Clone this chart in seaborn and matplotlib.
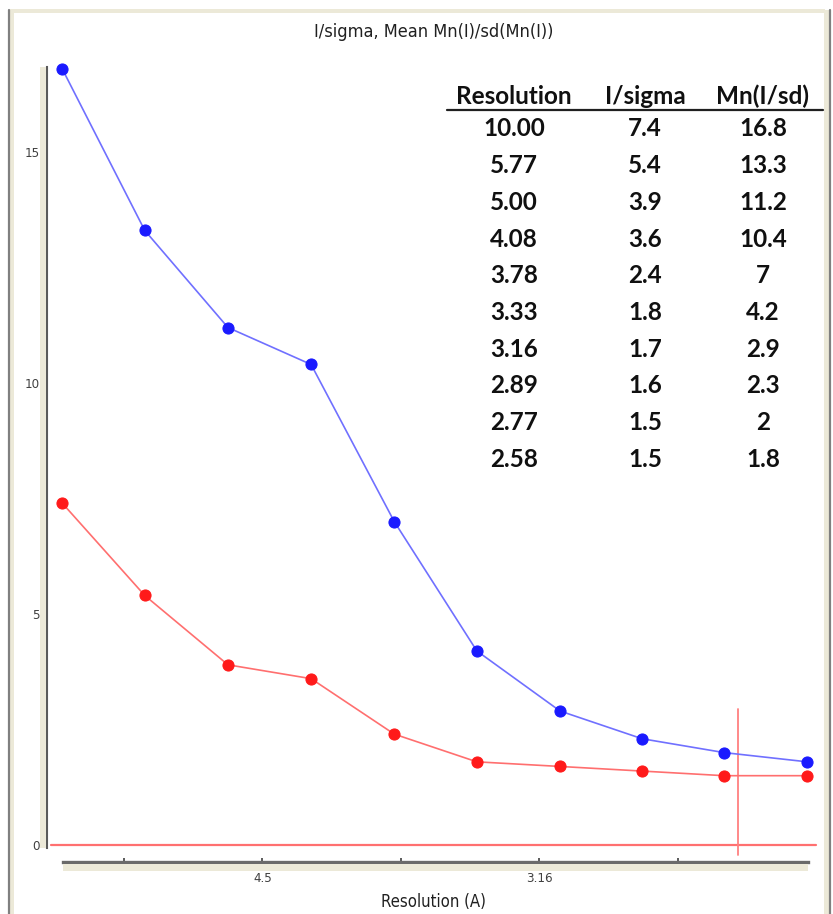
import matplotlib
matplotlib.use('Agg')
import matplotlib.pyplot as plt
from matplotlib.patches import Rectangle
from matplotlib.lines import Line2D
import seaborn as sns

# bin centres in 1/d^2 and the two curves
inv_d2 = [0.0139, 0.0288, 0.0438, 0.0588, 0.0738, 0.0887, 0.1037, 0.1185, 0.1333, 0.1483]
i_sigma = [7.4, 5.4, 3.9, 3.6, 2.4, 1.8, 1.7, 1.6, 1.5, 1.5]
mn_i_sd = [16.8, 13.3, 11.2, 10.4, 7.0, 4.2, 2.9, 2.3, 2.0, 1.8]

# table in the upper right
tbl_res = ['10.00', '5.77', '5.00', '4.08', '3.78', '3.33', '3.16', '2.89', '2.77', '2.58']
tbl_isig = ['7.4', '5.4', '3.9', '3.6', '2.4', '1.8', '1.7', '1.6', '1.5', '1.5']
tbl_mn = ['16.8', '13.3', '11.2', '10.4', '7', '4.2', '2.9', '2.3', '2', '1.8']
tbl_head = ['Resolution', 'I/sigma', 'Mn(I/sd)']

x_ticks = [0.025, 0.05, 0.075, 0.1, 0.125]
x_ticklabels = ['', '4.5', '', '3.16', '']
cursor_x = 0.1358

sns.set_style('white')
plt.rcParams['font.family'] = ['DejaVu Sans']
plt.rcParams['font.stretch'] = 'condensed'

W, H = 833, 914
fig = plt.figure(figsize=(W / 100, H / 100), dpi=100)
fig.patch.set_facecolor('white')

def fx(px):
    return px / W

def fy(py):
    return 1 - py / H

ax = fig.add_axes([fx(47), fy(862), fx(820) - fx(47), fy(60) - fy(862)])
ax.set_facecolor('white')
xlo, xhi = 0.01116, 0.1506
ax.set_xlim(xlo, xhi)
ax.set_ylim(-0.368, 16.99)

# window frame
fig.add_artist(Rectangle((fx(10), fy(13)), fx(825) - fx(10), fy(9) - fy(13), transform=fig.transFigure,
                         color='#ece9d8', lw=0))
fig.add_artist(Rectangle((fx(10), 0), fx(4), fy(10), transform=fig.transFigure, color='#ece9d8', lw=0))
fig.add_artist(Line2D([fx(9), fx(9)], [0, fy(10)], transform=fig.transFigure, color='#808080', lw=1.6))
fig.add_artist(Rectangle((fx(824), 0), fx(5), fy(10), transform=fig.transFigure, color='#ece9d8', lw=0))
fig.add_artist(Line2D([fx(830), fx(830)], [0, fy(10)], transform=fig.transFigure, color='#808080', lw=1.6))

# axis bars (light band + dark edge)
fig.add_artist(Rectangle((fx(40), fy(848)), fx(6), fy(67) - fy(848), transform=fig.transFigure,
                         color='#ece9d8', lw=0))
fig.add_artist(Rectangle((fx(63), fy(871)), fx(808) - fx(63), fy(864) - fy(871), transform=fig.transFigure,
                         color='#ece9d8', lw=0))

sns.despine(ax=ax, top=True, right=True)
ax.spines['left'].set_bounds(-0.07, 16.84)
ax.spines['left'].set_color('#5a5a5a')
ax.spines['left'].set_linewidth(1.5)
ax.spines['bottom'].set_bounds(0.01404, 0.14844)
ax.spines['bottom'].set_color('#6a6a6a')
ax.spines['bottom'].set_linewidth(2.4)

# zero line and cursor
ax.axhline(0, xmin=(0.0119 - xlo) / (xhi - xlo), xmax=(0.1498 - xlo) / (xhi - xlo),
           color='#ff7070', lw=1.6, zorder=1)
ax.plot([cursor_x, cursor_x], [-0.22, 2.95], color='#ff8080', lw=1.3, zorder=1)

sns.lineplot(x=inv_d2, y=mn_i_sd, ax=ax, color='#7070ff', lw=1.2, marker='o', markersize=8,
             markerfacecolor='#1a1aff', markeredgecolor='#1a1aff', zorder=3)
sns.lineplot(x=inv_d2, y=i_sigma, ax=ax, color='#ff6f6f', lw=1.2, marker='o', markersize=8,
             markerfacecolor='#ff1a1a', markeredgecolor='#ff1a1a', zorder=3)

ax.set_yticks([0, 5, 10, 15])
ax.set_yticks([2.5, 7.5, 12.5], minor=True)
ax.set_yticklabels(['0', '5', '10', '15'])
ax.set_xticks(x_ticks)
ax.set_xticklabels(x_ticklabels)
ax.tick_params(axis='y', which='major', left=True, length=4.5, width=1.2, color='#5a5a5a', pad=1,
               labelsize=9.5, labelcolor='#404040')
ax.tick_params(axis='y', which='minor', left=True, length=3.5, width=1.2, color='#5a5a5a')
ax.tick_params(axis='x', which='major', bottom=True, length=3, width=1.2, color='#404040', pad=7,
               labelsize=9.5, labelcolor='#404040', direction='in')

ax.set_xlabel('Resolution (A)', fontsize=12, color='#202020', va='center')
ax.xaxis.set_label_coords(0.5, (862 - 902) / 802)
ax.set_title('I/sigma, Mean Mn(I)/sd(Mn(I))', fontsize=13, color='#202020', va='center',
             y=(862 - 32) / 802, pad=0)

# table
col_x = [514, 645, 763]
head_y = 96
row_y0, row_dy = 129, 36.7
tfont = ['Lato', 'DejaVu Sans']
for cx, h in zip(col_x, tbl_head):
    fig.text(fx(cx), fy(head_y), h, ha='center', va='center', fontsize=17.5, fontweight='bold',
             family=tfont, fontstretch='normal', color='#101010')
fig.add_artist(Line2D([fx(447), fx(823)], [fy(110), fy(110)], transform=fig.transFigure,
                      color='#202020', lw=1.6))
for i in range(len(tbl_res)):
    yy = fy(row_y0 + row_dy * i)
    for cx, col in zip(col_x, [tbl_res, tbl_isig, tbl_mn]):
        fig.text(fx(cx), yy, col[i], ha='center', va='center', fontsize=17.5, fontweight='bold',
                 family=tfont, fontstretch='normal', color='#101010')

plt.savefig('out.png', dpi=100)
